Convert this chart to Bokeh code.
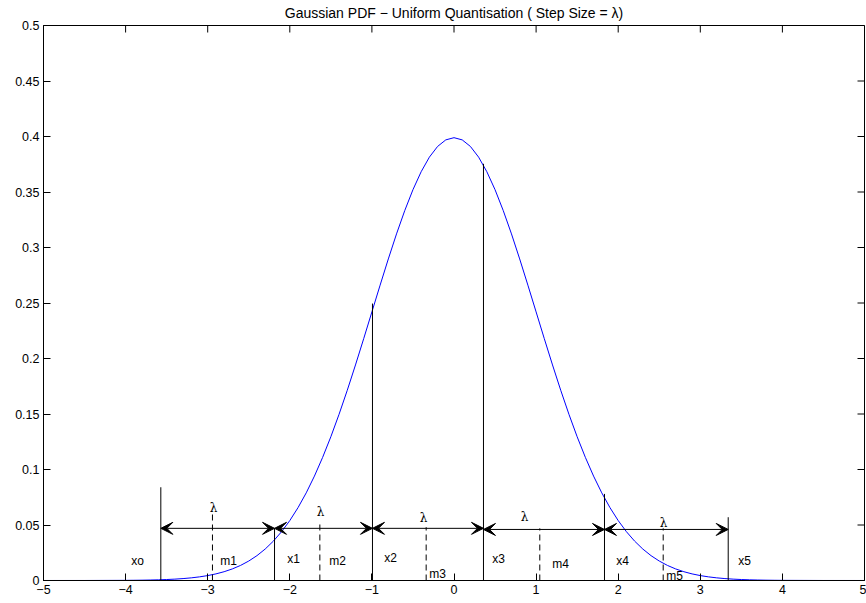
import math
from bokeh.plotting import figure
from bokeh.models import Range1d, LinearAxis, FixedTicker, Arrow, VeeHead, ColumnDataSource
from bokeh.core.properties import value
from bokeh.embed import file_html
from bokeh.resources import INLINE

# ---- data ----
pdf_x = [-5.0, -4.5, -4.0, -3.9, -3.8, -3.7, -3.6, -3.5, -3.4, -3.3, -3.2, -3.1, -3.0,
         -2.9, -2.8, -2.7, -2.6, -2.5, -2.4, -2.3, -2.2, -2.1, -2.0, -1.9, -1.8, -1.7,
         -1.6, -1.5, -1.4, -1.3, -1.2, -1.1, -1.0, -0.9, -0.8, -0.7, -0.6, -0.5, -0.4,
         -0.3, -0.2, -0.1, 0.0, 0.1, 0.2, 0.3, 0.4, 0.5, 0.6, 0.7, 0.8, 0.9, 1.0, 1.1,
         1.2, 1.3, 1.4, 1.5, 1.6, 1.7, 1.8, 1.9, 2.0, 2.1, 2.2, 2.3, 2.4, 2.5, 2.6, 2.7,
         2.8, 2.9, 3.0, 3.1, 3.2, 3.3, 3.4, 3.5, 3.6, 3.7, 3.8, 3.9, 4.0, 4.5, 5.0]
pdf_y = [0.0000015, 0.000016, 0.000134, 0.000199, 0.000292, 0.000425, 0.000612, 0.000873,
         0.001232, 0.001723, 0.002384, 0.003267, 0.004432, 0.005953, 0.007915, 0.010421,
         0.013583, 0.017528, 0.022395, 0.028327, 0.035475, 0.043984, 0.053991, 0.065616,
         0.078950, 0.094049, 0.110921, 0.129518, 0.149727, 0.171369, 0.194186, 0.217852,
         0.241971, 0.266085, 0.289692, 0.312254, 0.333225, 0.352065, 0.368270, 0.381388,
         0.391043, 0.396953, 0.398942, 0.396953, 0.391043, 0.381388, 0.368270, 0.352065,
         0.333225, 0.312254, 0.289692, 0.266085, 0.241971, 0.217852, 0.194186, 0.171369,
         0.149727, 0.129518, 0.110921, 0.094049, 0.078950, 0.065616, 0.053991, 0.043984,
         0.035475, 0.028327, 0.022395, 0.017528, 0.013583, 0.010421, 0.007915, 0.005953,
         0.004432, 0.003267, 0.002384, 0.001723, 0.001232, 0.000873, 0.000612, 0.000425,
         0.000292, 0.000199, 0.000134, 0.000016, 0.0000015]

bound_x = [-3.571, -2.186, -0.993, 0.359, 1.833, 3.34]
bound_top = [0.084, 0.047, 0.2495, 0.3754, 0.078, 0.057]
bound_names = ["xo", "x1", "x2", "x3", "x4", "x5"]
bound_lab_x = [-3.855, -1.955, -0.773, 0.542, 2.052, 3.538]
bound_lab_y = [0.018, 0.019, 0.020, 0.019, 0.018, 0.018]

mid_x = [-2.942, -1.634, -0.339, 1.045, 2.548]
mid_top = [0.060, 0.051, 0.048, 0.047, 0.047]
mid_names = ["m1", "m2", "m3", "m4", "m5"]
mid_lab_x = [-2.747, -1.419, -0.201, 1.297, 2.686]
mid_lab_y = [0.018, 0.018, 0.0063, 0.0153, 0.0045]

arrow_y = [0.047, 0.047, 0.047, 0.046, 0.046]
lam_x = [-2.929, -1.626, -0.371, 0.859, 2.552]
lam_y = [0.065, 0.062, 0.056, 0.0568, 0.0514]

x_ticks = [-5, -4, -3, -2, -1, 0, 1, 2, 3, 4, 5]
x_tick_labels = ["\u22125", "\u22124", "\u22123", "\u22122", "\u22121", "0", "1", "2", "3", "4", "5"]
y_ticks = [0, 0.05, 0.1, 0.15, 0.2, 0.25, 0.3, 0.35, 0.4, 0.45, 0.5]
y_tick_labels = ["0", "0.05", "0.1", "0.15", "0.2", "0.25", "0.3", "0.35", "0.4", "0.45", "0.5"]
title_text = "Gaussian PDF \u2212 Uniform Quantisation ( Step Size = \u03bb)"

FONT = "Liberation Sans"
X_LO, X_HI, Y_LO, Y_HI = -5, 5, 0, 0.5

p = figure(frame_width=821, frame_height=555, output_backend="svg", toolbar_location=None,
           x_range=Range1d(X_LO, X_HI), y_range=Range1d(Y_LO, Y_HI),
           x_axis_location=None, y_axis_location=None,
           min_border_left=43, min_border_right=2, min_border_top=25, min_border_bottom=23)
p.title.text = title_text
p.title.align = "center"
p.title.vertical_align = "top"
p.title.text_font = FONT
p.title.text_font_size = "14px"
p.title.text_font_style = "normal"
p.title.text_color = "black"
p.title.standoff = 5
p.grid.visible = False
p.outline_line_color = "black"
p.outline_line_width = 1
p.background_fill_color = "white"
p.border_fill_color = "white"

def mk_axis(ticks, labels):
    ax = LinearAxis(ticker=FixedTicker(ticks=ticks))
    ax.major_label_overrides = {t: l for t, l in zip(ticks, labels)}
    ax.major_tick_in = 7
    ax.major_tick_out = 0
    ax.minor_tick_in = 0
    ax.minor_tick_out = 0
    ax.axis_line_color = "black"
    ax.major_tick_line_color = "black"
    ax.major_label_text_font = FONT
    ax.major_label_text_color = "black"
    ax.major_label_text_font_size = "12.5px"
    ax.major_label_standoff = 4
    return ax

p.add_layout(mk_axis(x_ticks, x_tick_labels), "below")
p.add_layout(mk_axis(y_ticks, y_tick_labels), "left")

# inward ticks on the top and right edges (markers clipped by the frame)
p.scatter(x=x_ticks, y=[Y_HI] * len(x_ticks), marker="dash", size=14, angle=math.pi / 2,
          line_color="black", line_width=1)
p.scatter(x=[X_HI] * len(y_ticks), y=y_ticks, marker="dash", size=14, angle=0,
          line_color="black", line_width=1)

# Gaussian curve
p.line(pdf_x, pdf_y, line_color="#0000ff", line_width=1)

# boundary lines
p.segment(x0=bound_x, y0=[0] * len(bound_x), x1=bound_x, y1=bound_top,
          line_color="black", line_width=1)
# midpoints (dashed)
p.segment(x0=mid_x, y0=[0] * len(mid_x), x1=mid_x, y1=mid_top,
          line_color="black", line_width=1, line_dash="6 4")

# arrows
for i in range(len(arrow_y)):
    p.add_layout(Arrow(x_start=bound_x[i], y_start=arrow_y[i], x_end=bound_x[i + 1], y_end=arrow_y[i],
                       line_color="black", line_width=1,
                       start=VeeHead(size=12, fill_color="black", line_color="black"),
                       end=VeeHead(size=12, fill_color="black", line_color="black")))

src_b = ColumnDataSource(dict(x=bound_lab_x, y=bound_lab_y, t=bound_names))
src_m = ColumnDataSource(dict(x=mid_lab_x, y=mid_lab_y, t=mid_names))
src_l = ColumnDataSource(dict(x=lam_x, y=lam_y, t=["\u03bb"] * len(lam_x)))
for src in (src_b, src_m):
    p.text(x="x", y="y", text="t", source=src, text_font=value(FONT), text_font_size="12px",
           text_align="center", text_baseline="middle", text_color="black")
p.text(x="x", y="y", text="t", source=src_l, text_font=value("DejaVu Serif"), text_font_size="12px",
       text_align="center", text_baseline="middle", text_color="black")

open("out.html", "w").write(file_html(p, INLINE))
